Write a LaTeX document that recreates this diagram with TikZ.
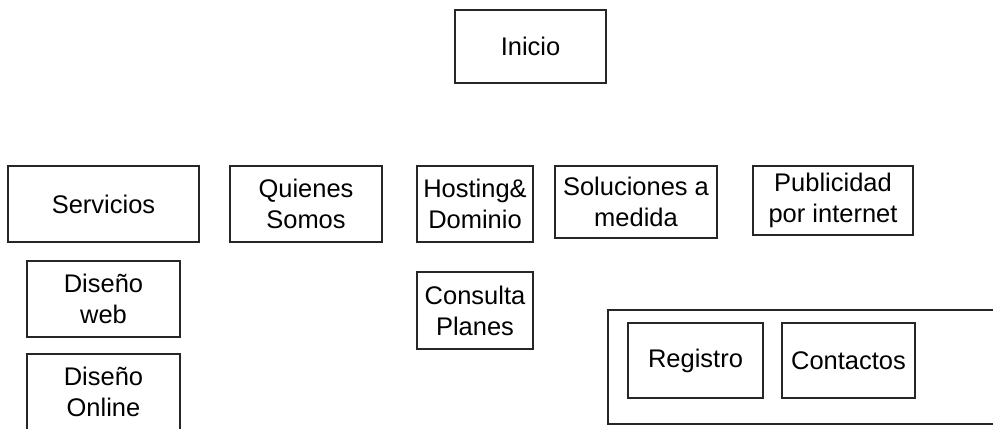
\documentclass[tikz,border=0pt]{standalone}
\usepackage{fontspec}
\setmainfont{Liberation Sans}
\usepackage{tikz}
\usetikzlibrary{positioning}

\tikzset{
	pagebox/.style={draw=black!85, line width=0.7pt, rectangle, align=center,
		inner sep=2pt, font=\fontsize{14.5}{17.6}\selectfont},
	groupbox/.style={draw=black!85, line width=0.7pt, rectangle}
}

\begin{document}
\begin{tikzpicture}
	\useasboundingbox (0,0) rectangle (19.86,-8.58);
	
	% ---------- top: home page ----------
	\node[pagebox, minimum width=3.02cm, minimum height=1.46cm] (inicio) at (10.61,-0.93) {Inicio};
	
	% ---------- Row 1: main sections ----------
	\node[pagebox, minimum width=3.82cm, minimum height=1.52cm] (servicios) at (2.07,-4.08) {Servicios};
	\node[pagebox, minimum width=3.04cm, minimum height=1.52cm] (quienes) at (6.12,-4.08) {Quienes\\Somos};
	\node[pagebox, minimum width=2.32cm, minimum height=1.52cm] (hosting) at (9.50,-4.08) {Hosting\&\\Dominio};
	\node[pagebox, minimum width=3.24cm, minimum height=1.44cm] (soluciones) at (12.72,-4.04) {Soluciones a\\medida};
	\node[pagebox, minimum width=3.20cm, minimum height=1.38cm] (publicidad) at (16.66,-4.01) {Publicidad\\por internet};
	
	% ---------- sub pages ----------
	\node[pagebox, minimum width=3.06cm, minimum height=1.52cm] (disenoweb) at (2.07,-5.98) {Diseño\\web};
	\node[pagebox, minimum width=3.06cm, minimum height=1.52cm] (disenoonline) at (2.07,-7.84) {Diseño\\Online};
	\node[pagebox, minimum width=2.32cm, minimum height=1.54cm] (consulta) at (9.50,-6.21) {Consulta\\Planes};
	
	% ---------- bottom right group ----------
	\node[groupbox, minimum width=7.84cm, minimum height=2.28cm] (grupo) at (16.08,-7.34) {};
	\node[pagebox, minimum width=2.70cm, minimum height=1.50cm] (registro) at (13.91,-7.21) {Registro};
	\node[pagebox, minimum width=2.66cm, minimum height=1.50cm] (contactos) at (16.97,-7.21) {Contactos};
	
\end{tikzpicture}
\end{document}
